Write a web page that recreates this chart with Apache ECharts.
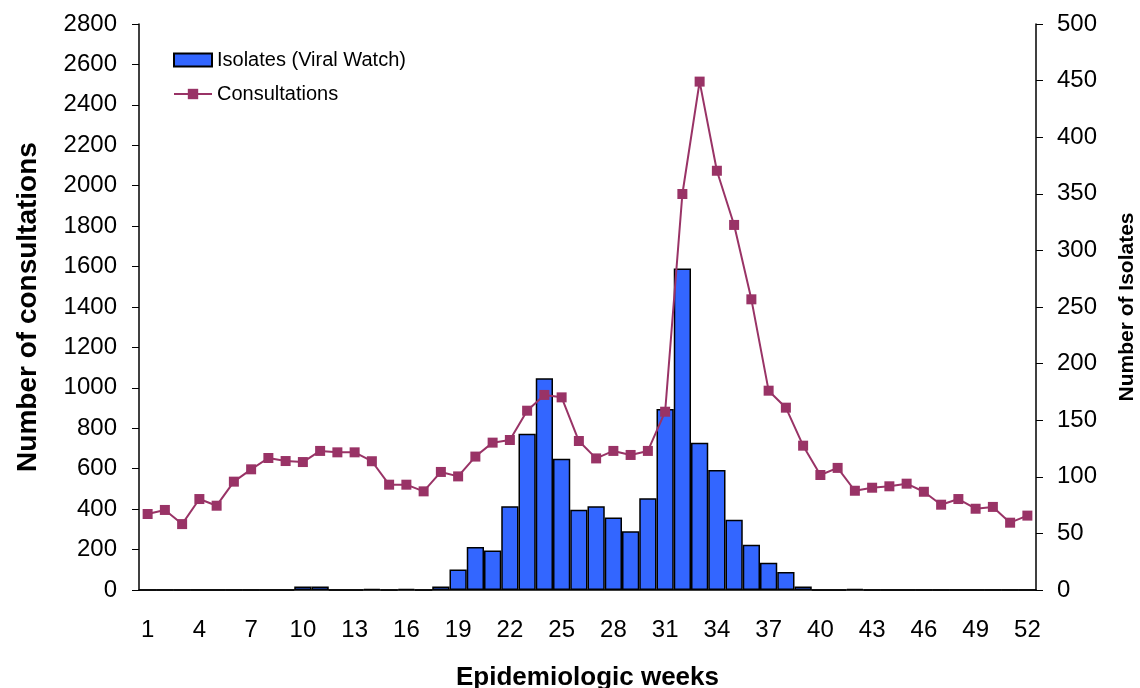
<!DOCTYPE html>
<html>
<head>
<meta charset="utf-8">
<script src="https://cdn.jsdelivr.net/npm/echarts@6/dist/echarts.min.js"></script>
<style>html,body{margin:0;padding:0;background:#fff}#c{width:1140px;height:688px}</style>
</head>
<body>
<div id="c"></div>
<script>
var weeks = ['1','2','3','4','5','6','7','8','9','10','11','12','13','14','15','16','17','18','19','20','21','22','23','24','25','26','27','28','29','30','31','32','33','34','35','36','37','38','39','40','41','42','43','44','45','46','47','48','49','50','51','52'];
var consultations = [376,396,326,450,417,536,597,653,638,633,688,681,681,637,521,521,488,584,562,660,729,742,887,965,953,737,651,688,668,688,882,1959,2515,2074,1806,1438,986,902,714,569,604,491,506,513,526,486,422,450,402,411,333,368];
var isolates = [0,0,0,0,0,0,0,0,0,3,3,0,0,1,0,1,0,3,18,38,35,74,138,187,116,71,74,64,52,81,160,284,130,106,62,40,24,16,3,0,0,1,0,0,0,0,0,0,0,0,0,0];
var leftTicks = {min:0, max:2800, interval:200};
var rightTicks = {min:0, max:500, interval:50};

var FONT = 'Liberation Sans, Arial, sans-serif';
function plain(v){ return String(v); }
var chart = echarts.init(document.getElementById('c'));
chart.setOption({
  backgroundColor:'#fff',
  animation:false,
  textStyle:{fontFamily:FONT},
  grid:{left:139, right:104, top:24, bottom:98, containLabel:false, outerBoundsMode:'none'},
  legend:{
    orient:'vertical', left:168, top:45, itemWidth:38, itemHeight:13, itemGap:14,
    textStyle:{fontSize:20, color:'#000', fontFamily:FONT},
    data:[{name:'Isolates (Viral Watch)', icon:'rect'}, {name:'Consultations'}]
  },
  xAxis:{
    type:'category', data:weeks, boundaryGap:true,
    name:'Epidemiologic weeks', nameLocation:'middle', nameGap:75,
    nameTextStyle:{fontSize:26, fontWeight:'bold', color:'#000'},
    axisLine:{lineStyle:{color:'#000', width:1.5}},
    axisTick:{interval:0, length:8, lineStyle:{color:'#000'}},
    axisLabel:{interval:2, fontSize:24, color:'#000', margin:28},
    splitLine:{show:false}
  },
  yAxis:[{
    type:'value', min:leftTicks.min, max:leftTicks.max, interval:leftTicks.interval,
    name:'Number of consultations', nameLocation:'middle', nameGap:97, nameRotate:90,
    nameTextStyle:{fontSize:28, fontWeight:'bold', color:'#000'},
    axisLine:{show:true, lineStyle:{color:'#000', width:1.5}},
    axisTick:{show:true, length:7, lineStyle:{color:'#000'}},
    axisLabel:{fontSize:24, color:'#000', margin:22, formatter:plain},
    splitLine:{show:false}
  },{
    type:'value', min:rightTicks.min, max:rightTicks.max, interval:rightTicks.interval,
    name:'Number of Isolates', nameLocation:'middle', nameGap:81, nameRotate:90,
    nameTextStyle:{fontSize:21, fontWeight:'bold', color:'#000'},
    axisLine:{show:true, lineStyle:{color:'#000', width:1.5}},
    axisTick:{show:true, length:7, lineStyle:{color:'#000'}},
    axisLabel:{fontSize:24, color:'#000', margin:21, formatter:plain},
    splitLine:{show:false}
  }],
  series:[{
    name:'Isolates (Viral Watch)', type:'bar', yAxisIndex:1, data:isolates,
    barCategoryGap:'0%',
    itemStyle:{color:'#3366FF', borderColor:'#000', borderWidth:1.5}
  },{
    name:'Consultations', type:'line', yAxisIndex:0, data:consultations,
    symbol:'rect', symbolSize:10,
    lineStyle:{color:'#993366', width:2},
    itemStyle:{color:'#993366'}
  }]
});
</script>
</body>
</html>
